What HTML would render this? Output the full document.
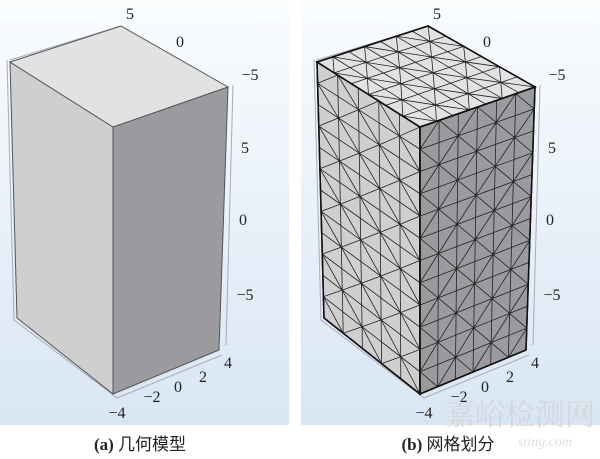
<!DOCTYPE html>
<html><head><meta charset="utf-8"><style>
body{margin:0;width:600px;height:459px;background:#fff;overflow:hidden}
svg{display:block}
text{font-family:"Liberation Serif","Noto Serif CJK SC",serif;fill:#222}
</style></head><body>
<svg id="s" width="600" height="459" viewBox="0 0 600 459">
<defs>
<linearGradient id="bg" x1="0" y1="0" x2="0" y2="1">
<stop offset="0" stop-color="#fafcfe"/><stop offset="1" stop-color="#d8e6f4"/></linearGradient>
</defs>
<rect x="0" y="0" width="289" height="425" fill="url(#bg)"/>
<rect x="301" y="0" width="299" height="425" fill="url(#bg)"/>
<g id="axes" stroke="#aab" stroke-width="1" fill="none"></g>
<g id="boxes"></g>
<g id="labels" font-size="16"></g>
<text x="140" y="450" text-anchor="middle" font-size="17" font-weight="bold">(a) <tspan font-family="Noto Sans CJK SC" font-weight="normal">几何模型</tspan></text>
<text x="448" y="450" text-anchor="middle" font-size="17" font-weight="bold">(b) <tspan font-family="Noto Sans CJK SC" font-weight="normal">网格划分</tspan></text>
<text x="520" y="425" text-anchor="middle" font-size="30" font-family="Noto Sans CJK SC" style="fill:#d4d4d4;opacity:.8">嘉峪检测网</text>
<text x="545" y="446" text-anchor="middle" font-size="14" font-style="italic" style="fill:#e0e0e0">sting.com</text>
</svg>
<script>
var NS="http://www.w3.org/2000/svg";
function el(p,t,a,txt){var e=document.createElementNS(NS,t);for(var k in a)e.setAttribute(k,a[k]);if(txt)e.textContent=txt;p.appendChild(e);return e}
var B=document.getElementById('boxes'),A=document.getElementById('axes'),L=document.getElementById('labels');
function P(a){return a.map(function(p){return p.join(',')}).join(' ')}
function box(dx,mesh){
 var tl=[10+dx,62],tb=[121+dx,26],tr=[228+dx,87],tf=[113+dx,127];
 var bl=[17+dx,318],bf=[113+dx,394],br=[219+dx,350];
 el(A,'polyline',{points:P([[7+dx,60],[14+dx,320],[117+dx,398],[222+dx,355]])});
 el(A,'line',{x1:121+dx,y1:26,x2:10+dx,y2:60});
 el(A,'line',{x1:233+dx,y1:85,x2:226+dx,y2:345});
 var faces=[[[tl,tf,bf,bl],'#cfcfcf',5,12],[[tf,tr,br,bf],'#9b9b9f',6,12],[[tl,tb,tr,tf],'#e2e2e2',7,6]];
 faces.forEach(function(f){
  el(B,'polygon',{points:P(f[0]),fill:f[1],stroke:mesh?'#111':'#555','stroke-width':mesh?1.5:1});
  if(mesh){
   var q=f[0],nu=f[2],nv=f[3];
   function m(u,v){var a=q[0],b=q[1],c=q[2],d=q[3];
     return [a[0]*(1-u)*(1-v)+b[0]*u*(1-v)+c[0]*u*v+d[0]*(1-u)*v,a[1]*(1-u)*(1-v)+b[1]*u*(1-v)+c[1]*u*v+d[1]*(1-u)*v]}
   var s='';
   for(var i=1;i<nu;i++){var p=m(i/nu,0),r=m(i/nu,1);s+='M'+p+'L'+r}
   for(var j=1;j<nv;j++){var p=m(0,j/nv),r=m(1,j/nv);s+='M'+p+'L'+r}
   for(var i=0;i<nu;i++)for(var j=0;j<nv;j++){
     var p,r;if((i+j)%2){p=m(i/nu,j/nv);r=m((i+1)/nu,(j+1)/nv)}else{p=m((i+1)/nu,j/nv);r=m(i/nu,(j+1)/nv)}
     s+='M'+p+'L'+r}
   el(B,'path',{d:s,stroke:'#222','stroke-width':0.8,fill:'none'});
   el(B,'polygon',{points:P(q),fill:'none',stroke:'#111','stroke-width':1.5});
  }
 });
 var lb=[['5',130,19],['0',180,47],['−5',250,80],['5',245,153],['0',243,225],['−5',245,300],['4',228,368],['2',203,382],['0',178,392],['−2',152,402],['−4',117,418]];
 lb.forEach(function(t){el(L,'text',{x:t[1]+dx,y:t[2],'text-anchor':'middle'},t[0])});
}
box(0,false);box(307,true);
</script>
</body></html>
